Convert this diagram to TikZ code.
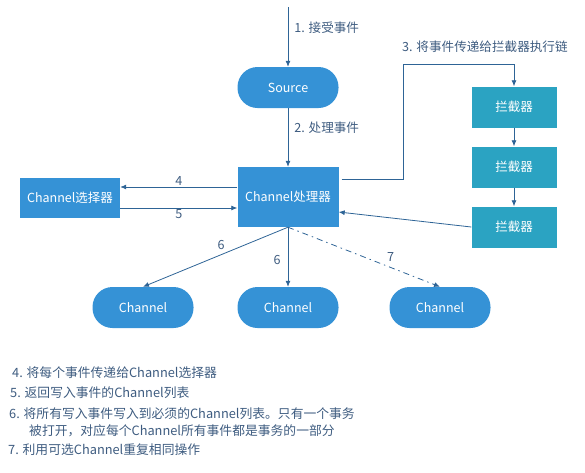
\documentclass[tikz,border=0pt]{standalone}
\usepackage{fontspec}
\setmainfont{Noto Sans CJK SC}
\usetikzlibrary{arrows.meta}

\definecolor{flowblue}{RGB}{53,146,214}
\definecolor{chainteal}{RGB}{43,163,194}
\definecolor{linecol}{RGB}{46,100,150}
\definecolor{textcol}{RGB}{62,92,128}

\tikzset{
  pillnode/.style={rectangle, rounded corners=20pt, fill=flowblue, text=white,
    minimum width=101pt, minimum height=41pt, font=\fontsize{12.5}{14}\selectfont},
  boxnode/.style={rectangle, fill=flowblue, text=white,
    minimum width=101pt, minimum height=60pt, font=\fontsize{12.5}{14}\selectfont},
  chainbox/.style={rectangle, fill=chainteal, text=white,
    minimum width=85pt, minimum height=41pt, font=\fontsize{12.5}{14}\selectfont},
  arr/.style={draw=linecol, line width=0.8pt, -{Latex[length=6pt,width=5pt]}},
  lbl/.style={text=textcol, font=\fontsize{12.6}{14}\selectfont, inner sep=1pt},
  legend/.style={text=textcol, font=\fontsize{12.8}{14}\selectfont, anchor=west, inner sep=0pt}
}

\begin{document}
\begin{tikzpicture}[x=1pt, y=-1pt]
\useasboundingbox (0,0) rectangle (585,472);

% Main flow
\coordinate (in) at (288,7);
\node[pillnode] (src) at (288,87.5) {Source};
\node[boxnode] (proc) at (288,197) {Channel处理器};
\node[boxnode, minimum width=100pt, minimum height=40pt] (sel) at (70,198) {Channel选择器};

% Interceptor chain
\node[chainbox] (int1) at (514,107) {拦截器};
\node[chainbox] (int2) at (514,167) {拦截器};
\node[chainbox] (int3) at (514,227) {拦截器};

% Channels
\node[pillnode] (ch1) at (143,307.5) {Channel};
\node[pillnode] (ch2) at (288,307.5) {Channel};
\node[pillnode] (ch3) at (440,307.5) {Channel};

% Arrows
\draw[arr] (in) -- (src.north) node[lbl, pos=0.35, right=5pt] {1. 接受事件};
\draw[arr] (src) -- (proc) node[lbl, pos=0.33, right=5pt] {2. 处理事件};

\draw[arr] ([xshift=3pt,yshift=18pt]proc.east) -| (403,64) -| (int1.north);
\node[lbl, anchor=west] (lbl3) at (401,47) {3. 将事件传递给拦截器执行链};
\draw[arr] (int1) -- (int2);
\draw[arr] (int2) -- (int3);
\draw[arr] (int3.west) -- ([yshift=-15pt]proc.east);

\draw[arr] ([yshift=10pt]proc.west) -- ([yshift=10pt]proc.west -| sel.east)
  node[lbl, midway, above] {4};
\draw[arr] ([yshift=-10pt]sel.east) -- ([yshift=-10pt]sel.east -| proc.west)
  node[lbl, midway, below] {5};

\draw[arr] (proc.south) -- (ch1.north) node[lbl, pos=0.42, above left=1pt] {6};
\draw[arr] (proc.south) -- (ch2.north) node[lbl, pos=0.55, left=6pt] {6};
\draw[arr, dash pattern=on 6pt off 4pt on 1.5pt off 4pt] (proc.south) -- (ch3.north)
  node[lbl, pos=0.63, above right=2pt] {7};

% Legend
\node[legend] (leg4) at (12,373) {4. 将每个事件传递给Channel选择器};
\node[legend] (leg5) at (10,393) {5. 返回写入事件的Channel列表};
\node[legend] (leg6) at (9,414) {6. 将所有写入事件写入到必须的Channel列表。只有一个事务};
\node[legend] (leg6b) at (29,431) {被打开，对应每个Channel所有事件都是事务的一部分};
\node[legend] (leg7) at (8,450) {7. 利用可选Channel重复相同操作};

\end{tikzpicture}
\end{document}
